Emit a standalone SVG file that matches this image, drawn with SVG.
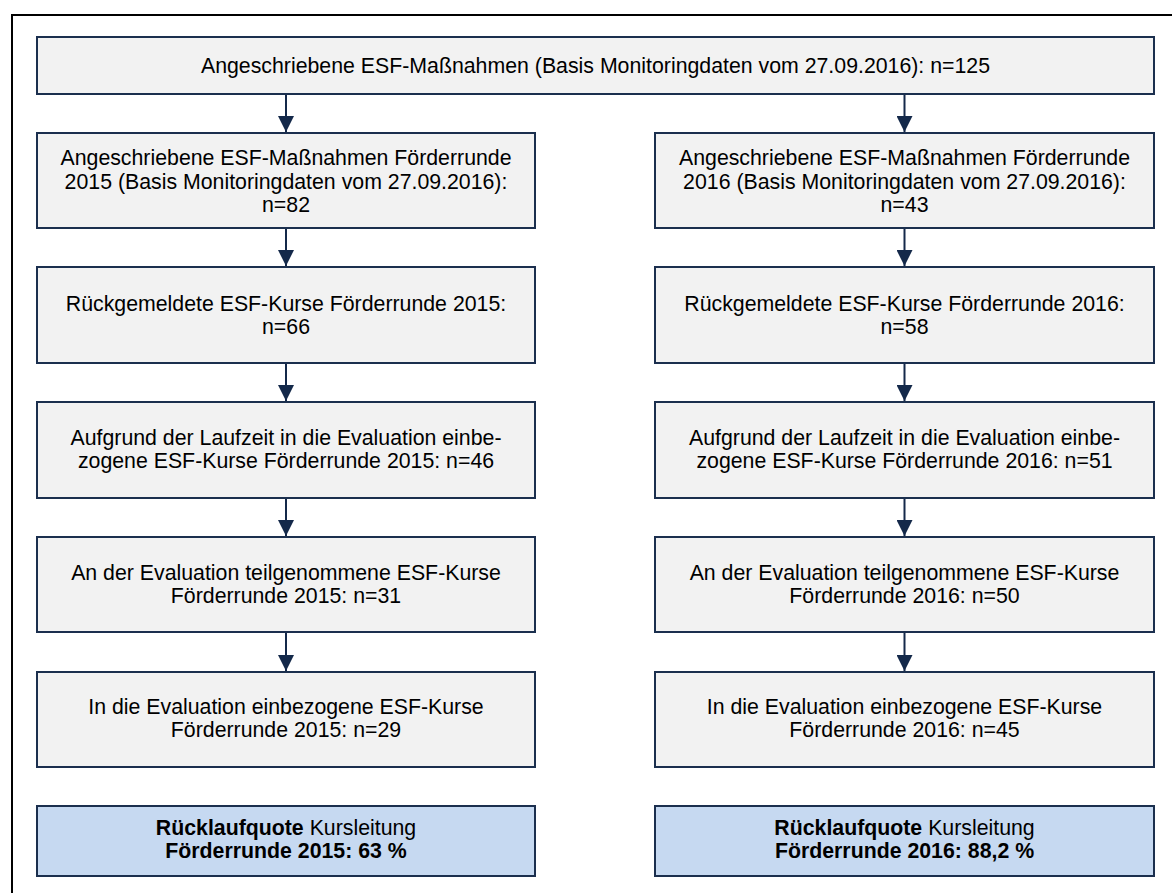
<svg xmlns="http://www.w3.org/2000/svg" width="1172" height="893" viewBox="0 0 1172 893">
<style>
.box{fill:#F2F2F2;stroke:#1B2F4E;stroke-width:2}
.blue{fill:#C6D9F1;stroke:#1B2F4E;stroke-width:2}
.t{font-family:"Liberation Sans",Arial,sans-serif;font-size:21.3px;fill:#000;text-anchor:middle}
.b{font-weight:bold}
.c{stroke:#14294A;stroke-width:2;fill:none}
</style>
<defs>
<marker id="ah" markerWidth="8" markerHeight="8" refX="8" refY="4" orient="auto" markerUnits="strokeWidth">
<path d="M0,0 L8,4 L0,8 Z" fill="#14294A"/>
</marker>
</defs>
<rect x="12" y="15" width="1175" height="895" fill="#FFFFFF" stroke="#000" stroke-width="2"/>
<g id="connectors">
<line class="c" x1="286" y1="95" x2="286" y2="132" marker-end="url(#ah)"/>
<line class="c" x1="904.5" y1="95" x2="904.5" y2="132" marker-end="url(#ah)"/>
<line class="c" x1="286" y1="229" x2="286" y2="266" marker-end="url(#ah)"/>
<line class="c" x1="904.5" y1="229" x2="904.5" y2="266" marker-end="url(#ah)"/>
<line class="c" x1="286" y1="364" x2="286" y2="401" marker-end="url(#ah)"/>
<line class="c" x1="904.5" y1="364" x2="904.5" y2="401" marker-end="url(#ah)"/>
<line class="c" x1="286" y1="499" x2="286" y2="536" marker-end="url(#ah)"/>
<line class="c" x1="904.5" y1="499" x2="904.5" y2="536" marker-end="url(#ah)"/>
<line class="c" x1="286" y1="633" x2="286" y2="671" marker-end="url(#ah)"/>
<line class="c" x1="904.5" y1="633" x2="904.5" y2="671" marker-end="url(#ah)"/>
</g>
<g id="top">
<rect class="box" x="37" y="37" width="1117" height="57"/>
<text class="t" x="595.5" y="72.5">Angeschriebene ESF-Maßnahmen (Basis Monitoringdaten vom 27.09.2016): n=125</text>
</g>
<g id="l2">
<rect class="box" x="37" y="133" width="498" height="95"/>
<text class="t" x="286" y="165">Angeschriebene ESF-Maßnahmen Förderrunde</text>
<text class="t" x="286" y="188.5">2015 (Basis Monitoringdaten vom 27.09.2016):</text>
<text class="t" x="286" y="212">n=82</text>
</g>
<g id="r2">
<rect class="box" x="655" y="133" width="499" height="95"/>
<text class="t" x="904.5" y="165">Angeschriebene ESF-Maßnahmen Förderrunde</text>
<text class="t" x="904.5" y="188.5">2016 (Basis Monitoringdaten vom 27.09.2016):</text>
<text class="t" x="904.5" y="212">n=43</text>
</g>
<g id="l3">
<rect class="box" x="37" y="267" width="498" height="96"/>
<text class="t" x="286" y="310.5">Rückgemeldete ESF-Kurse Förderrunde 2015:</text>
<text class="t" x="286" y="334">n=66</text>
</g>
<g id="r3">
<rect class="box" x="655" y="267" width="499" height="96"/>
<text class="t" x="904.5" y="310.5">Rückgemeldete ESF-Kurse Förderrunde 2016:</text>
<text class="t" x="904.5" y="334">n=58</text>
</g>
<g id="l4">
<rect class="box" x="37" y="402" width="498" height="96"/>
<text class="t" x="286" y="445">Aufgrund der Laufzeit in die Evaluation einbe-</text>
<text class="t" x="286" y="468">zogene ESF-Kurse Förderrunde 2015: n=46</text>
</g>
<g id="r4">
<rect class="box" x="655" y="402" width="499" height="96"/>
<text class="t" x="904.5" y="445">Aufgrund der Laufzeit in die Evaluation einbe-</text>
<text class="t" x="904.5" y="468">zogene ESF-Kurse Förderrunde 2016: n=51</text>
</g>
<g id="l5">
<rect class="box" x="37" y="537" width="498" height="95"/>
<text class="t" x="286" y="580">An der Evaluation teilgenommene ESF-Kurse</text>
<text class="t" x="286" y="603">Förderrunde 2015: n=31</text>
</g>
<g id="r5">
<rect class="box" x="655" y="537" width="499" height="95"/>
<text class="t" x="904.5" y="580">An der Evaluation teilgenommene ESF-Kurse</text>
<text class="t" x="904.5" y="603">Förderrunde 2016: n=50</text>
</g>
<g id="l6">
<rect class="box" x="37" y="672" width="498" height="95"/>
<text class="t" x="286" y="714">In die Evaluation einbezogene ESF-Kurse</text>
<text class="t" x="286" y="737">Förderrunde 2015: n=29</text>
</g>
<g id="r6">
<rect class="box" x="655" y="672" width="499" height="95"/>
<text class="t" x="904.5" y="714">In die Evaluation einbezogene ESF-Kurse</text>
<text class="t" x="904.5" y="737">Förderrunde 2016: n=45</text>
</g>
<g id="l7">
<rect class="blue" x="37" y="806" width="498" height="70"/>
<text class="t" x="286" y="835"><tspan class="b">Rücklaufquote</tspan> Kursleitung</text>
<text class="t b" x="286" y="858">Förderrunde 2015: 63 %</text>
</g>
<g id="r7">
<rect class="blue" x="655" y="806" width="499" height="70"/>
<text class="t" x="904.5" y="835"><tspan class="b">Rücklaufquote</tspan> Kursleitung</text>
<text class="t b" x="904.5" y="858">Förderrunde 2016: 88,2 %</text>
</g>
</svg>
